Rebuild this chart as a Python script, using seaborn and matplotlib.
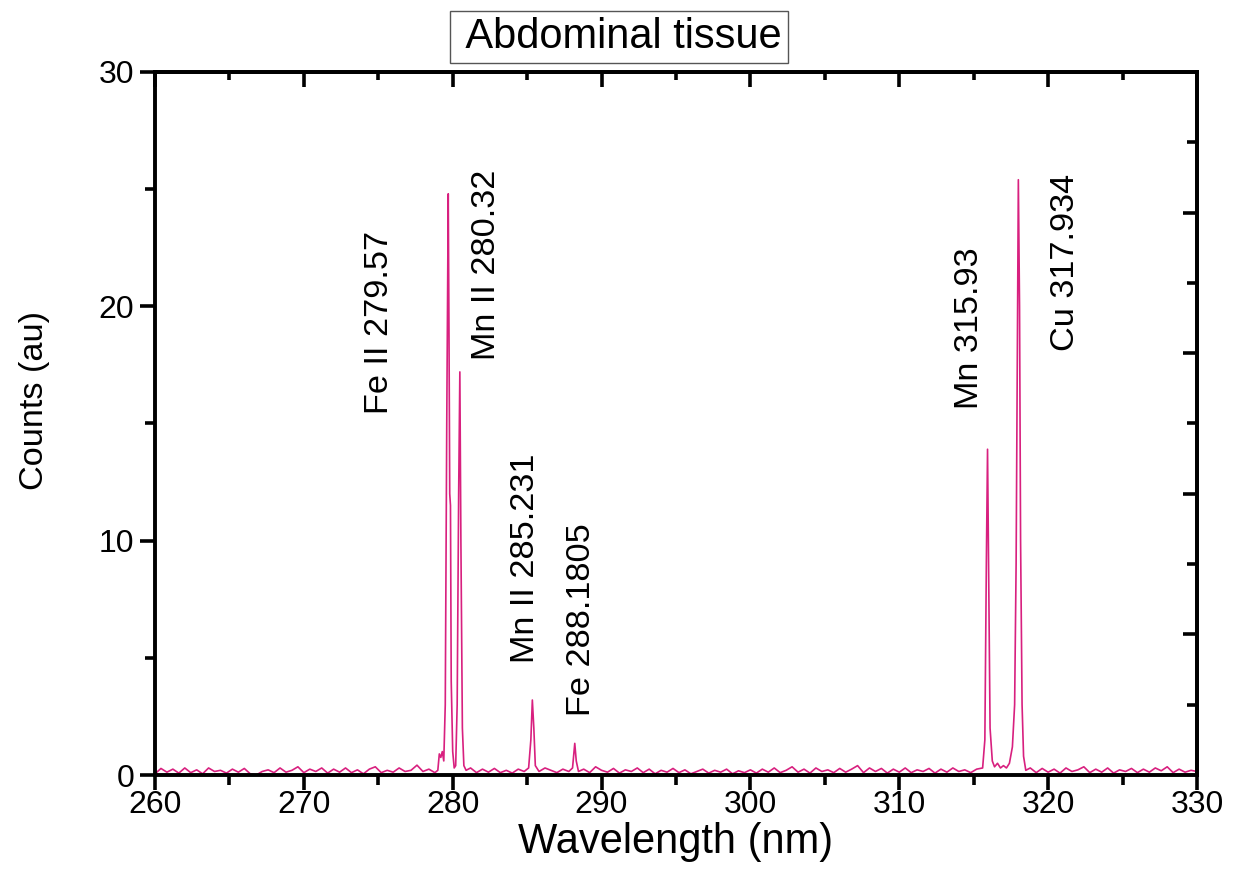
import numpy as np
import pandas as pd
import matplotlib
matplotlib.use("Agg")
import matplotlib.pyplot as plt
import seaborn as sns
from matplotlib.ticker import MultipleLocator, FixedLocator
from matplotlib import font_manager

# ---------------- data ----------------
wavelength = [
    260.0, 260.4, 260.8, 261.2, 261.6, 262.0, 262.4, 262.8, 263.2, 263.6,
    264.0, 264.4, 264.8, 265.2, 265.6, 266.0, 266.4, 266.8, 267.2, 267.6,
    268.0, 268.4, 268.8, 269.2, 269.6, 270.0, 270.4, 270.8, 271.2, 271.6,
    272.0, 272.4, 272.8, 273.2, 273.6, 274.0, 274.4, 274.8, 275.2, 275.6,
    276.0, 276.4, 276.8, 277.2, 277.6, 278.0, 278.4, 278.8, 279.0,
    279.1, 279.2, 279.3, 279.4, 279.5, 279.6, 279.7, 279.75, 279.8, 279.85,
    279.9, 280.0, 280.1, 280.2, 280.3, 280.4, 280.48, 280.55, 280.65, 280.75,
    280.9, 281.2, 281.6, 282.0, 282.4, 282.8, 283.2, 283.6, 284.0, 284.4,
    284.8, 285.1, 285.25, 285.35, 285.45, 285.55, 285.8, 286.2, 286.6, 287.0,
    287.4, 287.8, 288.05, 288.2, 288.3, 288.45, 288.8, 289.2, 289.6, 290.0,
    290.4, 290.8, 291.2, 291.6, 292.0, 292.4, 292.8, 293.2, 293.6, 294.0,
    294.4, 294.8, 295.2, 295.6, 296.0, 296.4, 296.8, 297.2, 297.6, 298.0,
    298.4, 298.8, 299.2, 299.6, 300.0, 300.4, 300.8, 301.2, 301.6, 302.0,
    302.4, 302.8, 303.2, 303.6, 304.0, 304.4, 304.8, 305.2, 305.6, 306.0,
    306.4, 306.8, 307.2, 307.6, 308.0, 308.4, 308.8, 309.2, 309.6, 310.0,
    310.4, 310.8, 311.2, 311.6, 312.0, 312.4, 312.8, 313.2, 313.6, 314.0,
    314.4, 314.8, 315.2, 315.6, 315.75, 315.85, 315.93, 316.0, 316.1, 316.25,
    316.4, 316.6, 316.8, 317.0, 317.2, 317.4, 317.6, 317.75, 317.85, 317.95,
    318.0, 318.08, 318.15, 318.25, 318.35, 318.5, 318.8, 319.2, 319.6, 320.0,
    320.4, 320.8, 321.2, 321.6, 322.0, 322.4, 322.8, 323.2, 323.6, 324.0,
    324.4, 324.8, 325.2, 325.6, 326.0, 326.4, 326.8, 327.2, 327.6, 328.0,
    328.4, 328.8, 329.2, 329.6, 330.0,
]
counts = [
    0.05, 0.28, 0.12, 0.25, 0.08, 0.30, 0.10, 0.22, 0.05, 0.30,
    0.15, 0.20, 0.08, 0.25, 0.12, 0.28, 0.05, 0.00, 0.15, 0.22,
    0.10, 0.30, 0.12, 0.20, 0.35, 0.10, 0.25, 0.15, 0.30, 0.08,
    0.25, 0.12, 0.30, 0.10, 0.22, 0.05, 0.25, 0.35, 0.10, 0.20,
    0.12, 0.30, 0.15, 0.20, 0.42, 0.15, 0.25, 0.10, 0.20,
    0.90, 0.75, 1.00, 0.60, 3.00, 15.0, 24.8, 19.0, 12.0, 11.5,
    4.00, 1.00, 0.30, 0.40, 3.00, 12.0, 17.2, 10.0, 2.00, 0.40,
    0.20, 0.30, 0.10, 0.25, 0.12, 0.28, 0.10, 0.20, 0.08, 0.25,
    0.15, 0.30, 1.50, 3.20, 2.00, 0.40, 0.15, 0.30, 0.20, 0.10,
    0.25, 0.15, 0.30, 1.35, 0.60, 0.15, 0.25, 0.10, 0.35, 0.20,
    0.12, 0.28, 0.08, 0.22, 0.15, 0.30, 0.10, 0.25, 0.05, 0.20,
    0.12, 0.28, 0.10, 0.22, 0.05, 0.15, 0.25, 0.08, 0.20, 0.12,
    0.25, 0.05, 0.18, 0.10, 0.22, 0.08, 0.25, 0.12, 0.30, 0.10,
    0.20, 0.35, 0.12, 0.25, 0.08, 0.30, 0.15, 0.22, 0.10, 0.28,
    0.12, 0.25, 0.40, 0.10, 0.30, 0.15, 0.28, 0.08, 0.25, 0.12,
    0.30, 0.10, 0.22, 0.15, 0.28, 0.08, 0.25, 0.12, 0.30, 0.15,
    0.22, 0.10, 0.25, 0.30, 1.50, 9.00, 13.9, 9.00, 2.00, 0.60,
    0.35, 0.50, 0.30, 0.40, 0.30, 0.50, 1.20, 3.00, 9.00, 20.0,
    25.4, 20.0, 10.0, 3.00, 0.80, 0.20, 0.30, 0.10, 0.28, 0.12,
    0.25, 0.08, 0.30, 0.15, 0.22, 0.35, 0.10, 0.25, 0.12, 0.30,
    0.08, 0.22, 0.15, 0.28, 0.10, 0.25, 0.12, 0.30, 0.18, 0.35,
    0.10, 0.25, 0.12, 0.20, 0.15,
]

x_ticks = [260, 270, 280, 290, 300, 310, 320, 330]
y_ticks = [0, 10, 20, 30]

line_labels = ["Fe II 279.57", "Mn II 280.32", "Mn II 285.231", "Fe 288.1805",
               "Mn 315.93", "Cu 317.934"]
label_x = [275.1, 282.3, 284.9, 288.65, 314.75, 321.2]
label_y = [15.4, 17.7, 4.8, 2.5, 15.6, 18.1]

title_text = " Abdominal tissue"
x_label = "Wavelength (nm)"
y_label = "Counts (au)"

# ---------------- style ----------------
sns.set_style("ticks")
available = {f.name for f in font_manager.fontManager.ttflist}
if "Liberation Sans Narrow" in available:
    narrow = ["Liberation Sans Narrow", "Liberation Sans", "DejaVu Sans"]
    narrow_scale = 1.0
else:
    narrow = ["Liberation Sans", "DejaVu Sans"]
    narrow_scale = 0.85
plt.rcParams["font.family"] = ["Liberation Sans", "DejaVu Sans"]
plt.rcParams["text.color"] = "black"
plt.rcParams["axes.labelcolor"] = "black"
plt.rcParams["xtick.color"] = "black"
plt.rcParams["ytick.color"] = "black"

df = pd.DataFrame({"Wavelength": wavelength, "Counts": counts})

fig = plt.figure(figsize=(12.4, 8.84), dpi=100)
ax = fig.add_axes([0.125, 0.1233, 0.8403, 0.7953])

sns.lineplot(data=df, x="Wavelength", y="Counts", ax=ax, color="#d8207f",
             linewidth=1.2, estimator=None, sort=False)

ax.set_xlim(260, 330)
ax.set_ylim(0, 30)
ax.xaxis.set_major_locator(FixedLocator(x_ticks))
ax.xaxis.set_minor_locator(MultipleLocator(5))
ax.yaxis.set_major_locator(FixedLocator(y_ticks))
ax.yaxis.set_minor_locator(MultipleLocator(5))
ax.set_xticklabels([str(v) for v in x_ticks])
ax.set_yticklabels([str(v) for v in y_ticks])
ax.tick_params(axis="both", which="major", direction="out", length=11, width=2.6,
               labelsize=23, color="black", labelcolor="black")
ax.tick_params(axis="x", which="major", pad=0)
ax.tick_params(axis="y", which="major", pad=4)
ax.tick_params(axis="both", which="minor", direction="out", length=7, width=2.6,
               color="black")

for s in ax.spines.values():
    s.set_visible(True)
    s.set_linewidth(2.8)
    s.set_color("black")

# top axis: inward ticks, no labels
top = ax.secondary_xaxis("top")
top.xaxis.set_major_locator(FixedLocator(x_ticks))
top.xaxis.set_minor_locator(MultipleLocator(5))
top.tick_params(which="major", direction="in", length=11, width=2.6, labeltop=False)
top.tick_params(which="minor", direction="in", length=6, width=2.6)
top.spines["top"].set_linewidth(2.8)

# right axis: inward ticks, no labels
right = ax.secondary_yaxis("right")
right.yaxis.set_major_locator(FixedLocator([6, 12, 18, 24]))
right.yaxis.set_minor_locator(FixedLocator([3, 9, 15, 21, 27]))
right.tick_params(which="major", direction="in", length=10, width=2.6, labelright=False)
right.tick_params(which="minor", direction="in", length=7, width=2.6)
right.spines["right"].set_linewidth(2.8)

ax.set_xlabel(x_label, fontsize=30, color="black")
ax.xaxis.set_label_coords(0.5, -0.067)
ax.set_ylabel(y_label, fontsize=29 * narrow_scale, family=narrow, color="black")
ax.yaxis.set_label_coords(-0.101, 0.533)

for txt, lx, ly in zip(line_labels, label_x, label_y):
    ax.text(lx, ly, txt, rotation=90, ha="center", va="bottom",
            fontsize=29 * narrow_scale, family=narrow, color="black")

fig.text(0.499, 0.958, title_text, ha="center", va="center", fontsize=30, color="black",
         bbox=dict(boxstyle="square,pad=0.15", fc="white", ec="#555555", lw=1.0))

fig.savefig("out.png", dpi=100)
